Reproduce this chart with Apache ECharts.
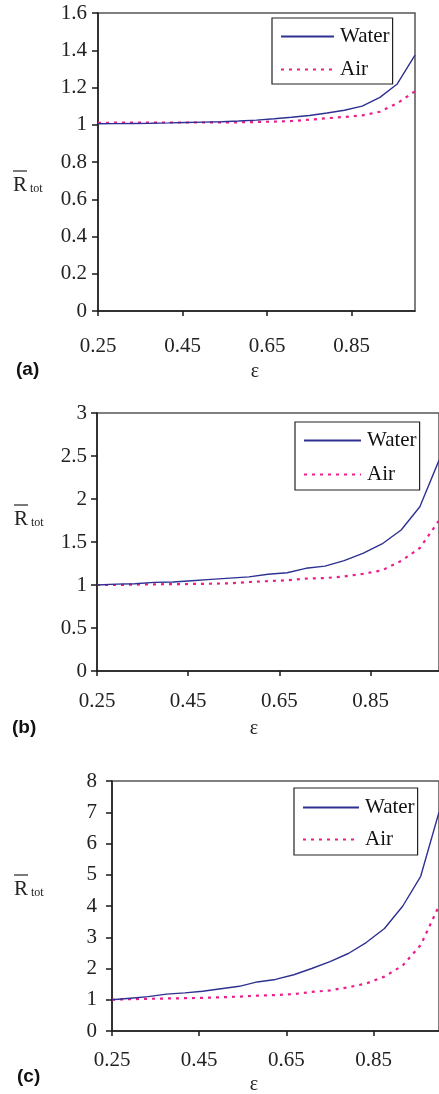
<!DOCTYPE html>
<html>
<head>
<meta charset="utf-8">
<script src="https://cdn.jsdelivr.net/npm/echarts@6/dist/echarts.min.js"></script>
<style>
html,body{margin:0;padding:0;background:#fff;}
#chart{width:439px;height:1094px;}
</style>
</head>
<body>
<div id="chart"></div>
<script>
// ε values (x) shared by all three panels
const eps = [0.25, 0.292, 0.333, 0.375, 0.417, 0.458, 0.5, 0.542, 0.583, 0.625,
             0.667, 0.708, 0.75, 0.792, 0.833, 0.875, 0.917, 0.958, 1.0];
const xTicks = [0.25, 0.45, 0.65, 0.85];

// panel (a)
const waterA = [1.005, 1.006, 1.007, 1.008, 1.010, 1.012, 1.014, 1.016, 1.020, 1.025,
                1.032, 1.040, 1.050, 1.063, 1.078, 1.100, 1.147, 1.219, 1.374];
const airA   = [1.010, 1.011, 1.012, 1.012, 1.012, 1.012, 1.012, 1.013, 1.013, 1.015,
                1.017, 1.020, 1.027, 1.035, 1.042, 1.050, 1.070, 1.115, 1.180];
// panel (b)
const waterB = [1.000, 1.010, 1.015, 1.030, 1.035, 1.050, 1.065, 1.080, 1.095, 1.125,
                1.143, 1.194, 1.220, 1.283, 1.368, 1.477, 1.640, 1.910, 2.450];
const airB   = [1.000, 1.000, 1.005, 1.008, 1.010, 1.012, 1.015, 1.020, 1.035, 1.045,
                1.055, 1.075, 1.080, 1.100, 1.130, 1.170, 1.280, 1.430, 1.750];
// panel (c)
const waterC = [1.00, 1.05, 1.10, 1.18, 1.22, 1.27, 1.35, 1.43, 1.57, 1.65,
                1.80, 2.00, 2.22, 2.48, 2.83, 3.28, 4.00, 4.95, 7.00];
const airC   = [1.00, 1.02, 1.03, 1.04, 1.05, 1.06, 1.08, 1.10, 1.13, 1.15,
                1.18, 1.25, 1.30, 1.40, 1.52, 1.74, 2.10, 2.75, 4.00];

const yMax = [1.6, 3, 8];
const yInterval = [0.2, 0.5, 1];
const panelLabels = ['(a)', '(b)', '(c)'];
const seriesNames = ['Water', 'Air'];

const WATER_COLOR = '#2e3192';
const AIR_COLOR = '#ec1e8c';
const SERIF = '"Liberation Serif", "Times New Roman", serif';

const grids = [
  {left: 98, top: 13, width: 317, height: 298},
  {left: 97, top: 413, width: 345, height: 258},
  {left: 112, top: 781, width: 334, height: 250}
];
const yLabelMargin = [11, 10, 15];
const xLabelMargin = [25, 20, 19];

const legendPos = [
  {left: 272, top: 18, padding: [8, 3, 4, 8], itemGap: 12, itemWidth: 53},
  {left: 295, top: 422, padding: [8, 3, 5, 8], itemGap: 13, itemWidth: 57},
  {left: 294, top: 788, padding: [9, 3, 5, 8], itemGap: 11, itemWidth: 56}
];

const pairs = (ys) => eps.map((x, i) => [x, ys[i]]);
const dataSets = [[waterA, airA], [waterB, airB], [waterC, airC]];

const axisLineStyle = {color: '#1a1a1a', width: 1.5};
const fmtNum = (v) => String(parseFloat(v.toFixed(2)));

const option = {
  animation: false,
  backgroundColor: '#fff',
  grid: grids.map(g => Object.assign({show: true, borderColor: '#555', borderWidth: 1.5, backgroundColor: 'transparent'}, g)),
  xAxis: grids.map((g, i) => ({
    type: 'value', gridIndex: i, min: 0.25, max: 1.0, interval: 0.2,
    axisLine: {show: true, onZero: false, lineStyle: axisLineStyle},
    axisTick: {show: true, length: 5, lineStyle: axisLineStyle},
    splitLine: {show: false},
    axisLabel: {
      margin: xLabelMargin[i], showMaxLabel: false,
      fontFamily: SERIF, fontSize: 21, color: '#222',
      formatter: (v) => xTicks.some(t => Math.abs(t - v) < 1e-6) ? v.toFixed(2) : ''
    }
  })),
  yAxis: grids.map((g, i) => ({
    type: 'value', gridIndex: i, min: 0, max: yMax[i], interval: yInterval[i],
    axisLine: {show: true, lineStyle: axisLineStyle},
    axisTick: {show: true, length: 6, lineStyle: axisLineStyle},
    splitLine: {show: false},
    axisLabel: {margin: yLabelMargin[i], fontFamily: SERIF, fontSize: 21, color: '#222', formatter: fmtNum}
  })),
  legend: legendPos.map((p, i) => ({
    show: true, orient: 'vertical', left: p.left, top: p.top, padding: p.padding,
    itemGap: p.itemGap, itemWidth: p.itemWidth, itemHeight: 2,
    itemStyle: {opacity: 0},
    borderColor: '#222', borderWidth: 1.2, backgroundColor: '#fff',
    data: seriesNames,
    textStyle: {fontFamily: SERIF, fontSize: 21, color: '#111', padding: [0, 0, 0, 1]},
    selectedMode: false
  })),
  series: []
};

dataSets.forEach((pair, i) => {
  option.series.push({
    name: 'Water', type: 'line', xAxisIndex: i, yAxisIndex: i,
    data: pairs(pair[0]), symbol: 'none', showSymbol: false,
    lineStyle: {color: WATER_COLOR, width: 1.4}, itemStyle: {color: WATER_COLOR}, z: 3
  });
  option.series.push({
    name: 'Air', type: 'line', xAxisIndex: i, yAxisIndex: i,
    data: pairs(pair[1]), symbol: 'none', showSymbol: false,
    lineStyle: {color: AIR_COLOR, width: 2.2, type: [3, 5]}, itemStyle: {color: AIR_COLOR}, z: 2
  });
});

// axis-name decorations (ε, R̄tot) and panel tags
const rPos = [{x: 13, y: 187}, {x: 14, y: 521}, {x: 14, y: 891}];
const epsPos = [{x: 255, y: 372}, {x: 254, y: 729}, {x: 254, y: 1085}];
const tagPos = [{x: 16, y: 370}, {x: 12, y: 728}, {x: 17, y: 1077}];
const graphics = [];
rPos.forEach((p) => {
  graphics.push({type: 'text', left: p.x, top: p.y - 12, style: {text: 'R', font: '21px ' + SERIF, fill: '#222'}});
  graphics.push({type: 'text', left: p.x + 17, top: p.y - 4, style: {text: 'tot', font: '12px ' + SERIF, fill: '#222'}});
  graphics.push({type: 'line', shape: {x1: p.x, y1: p.y - 16, x2: p.x + 14, y2: p.y - 16}, style: {stroke: '#222', lineWidth: 1.2}});
});
epsPos.forEach((p) => {
  graphics.push({type: 'text', x: p.x, y: p.y, style: {text: 'ε', font: '20px ' + SERIF, fill: '#222', textAlign: 'center', textVerticalAlign: 'middle'}});
});
tagPos.forEach((p, i) => {
  graphics.push({type: 'text', x: p.x, y: p.y, style: {text: panelLabels[i], font: 'bold 19px "Liberation Sans", Arial, sans-serif', fill: '#111', textAlign: 'left', textVerticalAlign: 'middle'}});
});
option.graphic = graphics;

const chart = echarts.init(document.getElementById('chart'), null, {renderer: 'canvas'});
chart.setOption(option);
</script>
</body>
</html>
